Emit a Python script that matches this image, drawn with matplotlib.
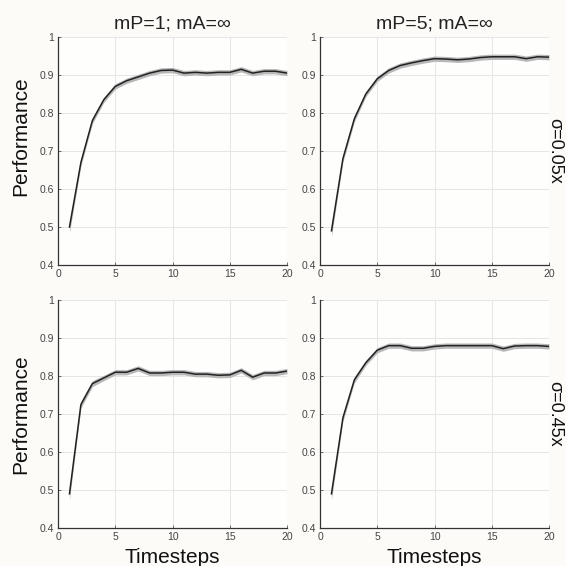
import matplotlib
matplotlib.use('Agg')
import matplotlib.pyplot as plt
import matplotlib.ticker as mticker

plt.rcParams['font.family'] = ['Liberation Sans', 'DejaVu Sans']

timesteps = list(range(1, 21))

# mean performance per panel (row = sigma, col = mP)
perf_mp1_s005 = [0.500, 0.670, 0.780, 0.835, 0.870, 0.885, 0.895, 0.905, 0.912, 0.913,
                 0.905, 0.907, 0.905, 0.907, 0.907, 0.915, 0.905, 0.910, 0.910, 0.905]
perf_mp5_s005 = [0.490, 0.680, 0.785, 0.850, 0.890, 0.912, 0.925, 0.932, 0.938, 0.943,
                 0.942, 0.940, 0.942, 0.946, 0.948, 0.948, 0.948, 0.943, 0.948, 0.947]
perf_mp1_s045 = [0.490, 0.725, 0.780, 0.795, 0.810, 0.810, 0.820, 0.808, 0.808, 0.810,
                 0.810, 0.805, 0.805, 0.802, 0.803, 0.815, 0.797, 0.808, 0.808, 0.813]
perf_mp5_s045 = [0.490, 0.690, 0.790, 0.835, 0.868, 0.880, 0.880, 0.873, 0.873, 0.878,
                 0.880, 0.880, 0.880, 0.880, 0.880, 0.872, 0.879, 0.880, 0.880, 0.878]

# half-width of the shaded error band
err_band = [0.015, 0.009, 0.008, 0.007, 0.007, 0.007, 0.007, 0.007, 0.007, 0.007,
            0.007, 0.007, 0.007, 0.007, 0.007, 0.007, 0.007, 0.007, 0.007, 0.007]

col_titles = ['mP=1; mA=\u221e', 'mP=5; mA=\u221e']
row_labels = ['\u03c3=0.05x', '\u03c3=0.45x']
panels = [[perf_mp1_s005, perf_mp5_s005], [perf_mp1_s045, perf_mp5_s045]]

fig = plt.figure(figsize=(5.66, 5.66), dpi=100, facecolor='#fcfbf8')

lefts = [0.1025, 0.5654]
bottoms = [0.5318, 0.0671]
w, h = 0.4046, 0.4028
ylabel_y = [0.565, 0.5]

for r in range(2):
    for c in range(2):
        ax = fig.add_axes([lefts[c], bottoms[r], w, h])
        ax.set_facecolor('#fefefd')
        y = panels[r][c]
        lo = [v - e for v, e in zip(y, err_band)]
        hi = [v + e for v, e in zip(y, err_band)]
        ax.fill_between(timesteps, lo, hi, color='#b8b8b8', lw=0)
        ax.plot(timesteps, y, color='#222222', lw=1.1)

        ax.set_xlim(0, 20)
        ax.set_ylim(0.4, 1.0)
        ax.set_xticks([0, 5, 10, 15, 20])
        ax.set_yticks([0.4, 0.5, 0.6, 0.7, 0.8, 0.9, 1.0])
        ax.yaxis.set_major_formatter(mticker.FuncFormatter(lambda v, p: '1' if v >= 0.999 else f'{v:.1f}'))
        ax.grid(True, color='#e6e6e6', lw=0.7)
        ax.set_axisbelow(True)
        for s in ['top', 'right']:
            ax.spines[s].set_visible(False)
        for s in ['left', 'bottom']:
            ax.spines[s].set_color('#333333')
            ax.spines[s].set_linewidth(0.9)
        ax.tick_params(direction='in', length=2.5, width=0.6, labelsize=7.5,
                       labelcolor='#444444', color='#555555', pad=3)

        if r == 0:
            ax.set_title(col_titles[c], fontsize=14, color='#222222', pad=6)
        if c == 0:
            ax.set_ylabel('Performance', fontsize=15, color='#111111')
            ax.yaxis.set_label_coords(-0.12, ylabel_y[r])
        else:
            ax.text(1.027, 0.5, row_labels[r], transform=ax.transAxes, rotation=-90,
                    fontsize=13, color='#111111', ha='center', va='center')
        if r == 1:
            ax.set_xlabel('Timesteps', fontsize=15, color='#111111', labelpad=4)

fig.savefig('out.png', dpi=100, facecolor=fig.get_facecolor())
plt.close(fig)
